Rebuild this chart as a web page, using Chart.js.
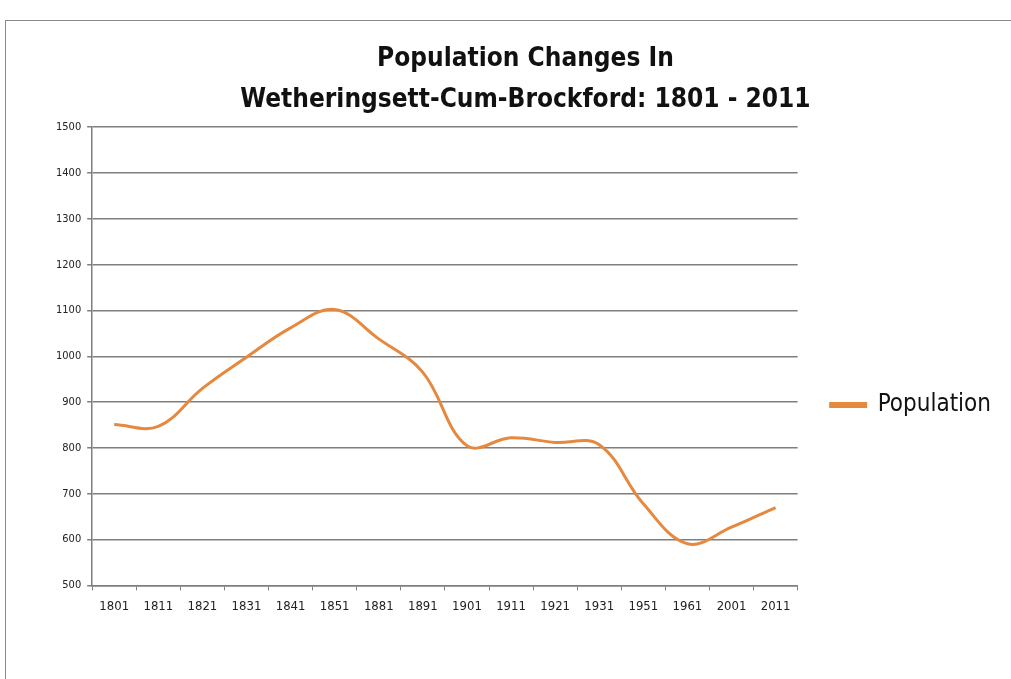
<!DOCTYPE html>
<html lang="en">
<head>
    <meta charset="UTF-8">
    <title>Population Changes In Wetheringsett-Cum-Brockford</title>
    <style>
        html, body {
            margin: 0;
            padding: 0;
            background-color: #fff;
        }

        #frame {
            position: absolute;
            left: 5px;
            top: 20px;
            width: 1020px;
            height: 700px;
            border: 1px solid #8a8a8a;
        }

        #wrap {
            position: absolute;
            left: 0;
            top: 0;
            width: 1011px;
            height: 679px;
        }
    </style>
    <script src="https://cdn.jsdelivr.net/npm/chart.js"></script>
</head>
<body>
    <div id="frame"></div>
    <div id="wrap"><canvas id="popChart"></canvas></div>

    <script>
        const years = ['1801', '1811', '1821', '1831', '1841', '1851', '1881', '1891',
                       '1901', '1911', '1921', '1931', '1951', '1961', '2001', '2011'];
        const population = [851, 847, 930, 998, 1062, 1102, 1038, 965,
                            805, 822, 812, 807, 678, 591, 627, 670];
        const titleLines = ['Population Changes In', 'Wetheringsett-Cum-Brockford: 1801 - 2011'];

        const fontFamily = '"DejaVu Sans Condensed", Lato, sans-serif';
        const gridColor = '#7f7f7f';

        // move the legend down to sit beside the 900 line, like the original
        const legendShift = {
            id: 'legendShift',
            afterLayout(chart) {
                chart.legend.top += 75;
                chart.legend.bottom += 75;
            }
        };

        const ctx = document.getElementById('popChart').getContext('2d');
        new Chart(ctx, {
            type: 'line',
            data: {
                labels: years,
                datasets: [{
                    label: 'Population',
                    data: population,
                    borderColor: '#e6883e',
                    backgroundColor: '#e6883e',
                    borderWidth: 3,
                    tension: 0.38,
                    pointRadius: 0,
                    fill: false
                }]
            },
            options: {
                responsive: true,
                maintainAspectRatio: false,
                animation: false,
                layout: {
                    padding: { left: 50, right: 10, top: 38, bottom: 57 }
                },
                scales: {
                    x: {
                        offset: true,
                        grid: {
                            offset: true,
                            drawOnChartArea: false,
                            drawTicks: true,
                            tickLength: 5,
                            color: gridColor
                        },
                        border: { color: gridColor, width: 1.5 },
                        ticks: {
                            color: '#222',
                            font: { family: fontFamily, size: 13 },
                            maxRotation: 0,
                            autoSkip: false,
                            padding: 8
                        }
                    },
                    y: {
                        min: 500,
                        max: 1500,
                        ticks: {
                            stepSize: 100,
                            color: '#222',
                            font: { family: fontFamily, size: 11 },
                            padding: 6,
                            callback: value => String(value)
                        },
                        grid: {
                            color: gridColor,
                            lineWidth: 1.5,
                            tickLength: 5
                        },
                        border: { color: gridColor, width: 1.5 }
                    }
                },
                plugins: {
                    title: {
                        display: true,
                        text: titleLines,
                        color: '#111',
                        font: { family: fontFamily, size: 26, weight: 'bold', lineHeight: 1.6 },
                        padding: { top: 0, bottom: 6 }
                    },
                    legend: {
                        position: 'right',
                        labels: {
                            color: '#111',
                            font: { family: fontFamily, size: 24 },
                            boxWidth: 35,
                            boxHeight: 3,
                            padding: 33
                        }
                    },
                    tooltip: { enabled: false }
                }
            },
            plugins: [legendShift]
        });
    </script>
</body>
</html>
